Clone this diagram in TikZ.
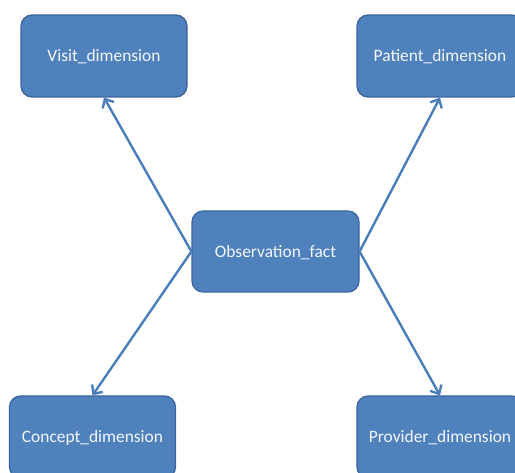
\documentclass[tikz,border=0pt]{standalone}
\usepackage{fontspec}
\setmainfont{Carlito}
\usetikzlibrary{arrows.meta}
\definecolor{boxfill}{HTML}{4F81BD}
\definecolor{boxline}{HTML}{3A64A0}
\definecolor{arrowc}{HTML}{4A7EBB}
\definecolor{boxtext}{HTML}{F4F7FC}
\begin{document}
\begin{tikzpicture}[x=1pt,y=1pt,
  dimbox/.style={draw=boxline,line width=1.2pt,fill=boxfill,rounded corners=11pt,
    minimum width=166pt,minimum height=82pt,inner sep=0pt,text=boxtext,
    text height=12pt,text depth=0pt,
    font=\fontsize{17.4}{20}\selectfont},
  conn/.style={draw=arrowc,line width=2.4pt,-{Straight Barb[length=7pt,width=13pt,line width=2.4pt]}}]
\useasboundingbox (0,0) rectangle (515,-473);
\node[dimbox] (visit) at (104,-56) {Visit\_dimension};
\node[dimbox] (patient) at (440,-56) {Patient\_dimension};
\node[dimbox,minimum width=167pt,minimum height=81pt] (obs) at (275.5,-251.5) {Observation\_fact};
\node[dimbox] (concept) at (92.5,-437) {Concept\_dimension};
\node[dimbox] (provider) at (440,-437) {Provider\_dimension};
\draw[conn] (obs.west) -- (visit.south);
\draw[conn] (obs.west) -- (concept.north);
\draw[conn] (obs.east) -- (patient.south);
\draw[conn] (obs.east) -- (provider.north);
\end{tikzpicture}
\end{document}
